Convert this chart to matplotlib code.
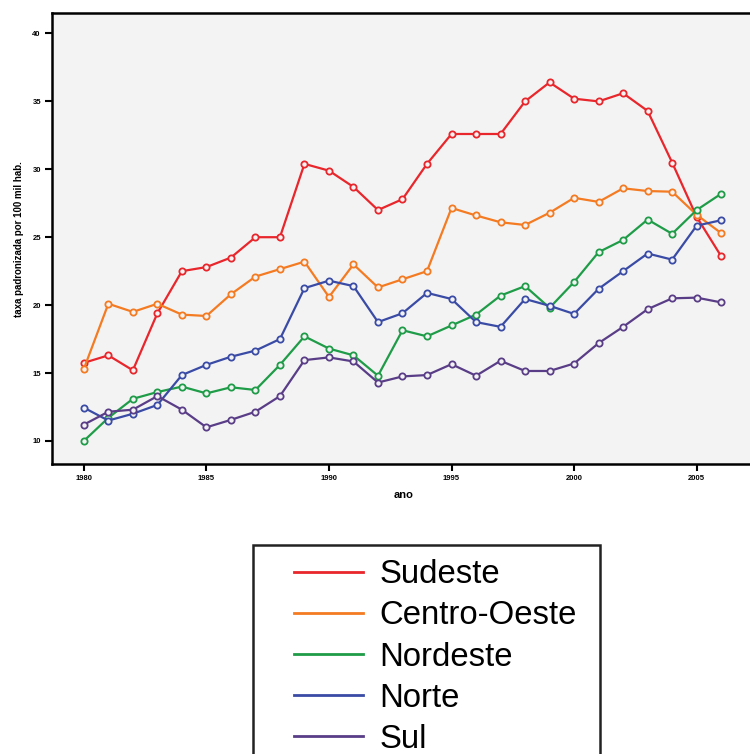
import numpy as np
import matplotlib.pyplot as plt
from matplotlib.legend_handler import HandlerLine2D
from matplotlib.patches import Rectangle

plt.rcParams['font.family'] = ['Liberation Sans', 'DejaVu Sans']

anos = np.arange(1980, 2007)

sudeste = [15.75, 16.3, 15.2, 19.4, 22.5, 22.8, 23.5, 25.0, 25.0, 30.4, 29.9, 28.7, 27.0, 27.8,
           30.4, 32.6, 32.6, 32.6, 35.0, 36.4, 35.2, 35.0, 35.6, 34.3, 30.5, 26.5, 23.6]
centro_oeste = [15.3, 20.1, 19.5, 20.1, 19.3, 19.2, 20.8, 22.1, 22.65, 23.2, 20.6, 23.0, 21.3, 21.9,
                22.5, 27.15, 26.6, 26.1, 25.9, 26.8, 27.9, 27.6, 28.6, 28.4, 28.35, 26.65, 25.3]
nordeste = [10.0, 11.7, 13.1, 13.6, 14.0, 13.5, 13.95, 13.75, 15.6, 17.7, 16.8, 16.3, 14.8, 18.15,
            17.7, 18.5, 19.3, 20.7, 21.4, 19.8, 21.7, 23.9, 24.8, 26.3, 25.25, 27.0, 28.2]
norte = [12.45, 11.5, 12.0, 12.65, 14.85, 15.6, 16.2, 16.65, 17.5, 21.25, 21.8, 21.4, 18.75, 19.4,
         20.9, 20.45, 18.75, 18.4, 20.45, 19.95, 19.35, 21.2, 22.5, 23.8, 23.35, 25.85, 26.25]
sul = [11.2, 12.15, 12.3, 13.3, 12.3, 11.0, 11.55, 12.15, 13.3, 15.95, 16.15, 15.85, 14.3, 14.75,
       14.85, 15.65, 14.8, 15.9, 15.15, 15.15, 15.7, 17.2, 18.4, 19.7, 20.5, 20.55, 20.2]

regioes = ['Sudeste', 'Centro-Oeste', 'Nordeste', 'Norte', 'Sul']
series = [sudeste, centro_oeste, nordeste, norte, sul]
cores = ['#e8262b', '#f47b22', '#1f9c48', '#3a4ba6', '#5a3d87']


class LinhaRecuada(HandlerLine2D):
    # legend line starts part way into the handle box, leaving a wide left margin
    def get_xdata(self, legend, xdescent, ydescent, width, height, fontsize):
        x0 = -xdescent + 0.28 * width
        x1 = -xdescent + width
        return np.array([x0, x1]), np.array([x0, x1])


fig = plt.figure(figsize=(7.5, 7.54), dpi=100)
ax = fig.add_axes([0.0693, 0.3846, 0.938, 0.598])
ax.set_facecolor('#f3f3f3')

for nome, valores, cor in zip(regioes, series, cores):
    ax.plot(anos, valores, color=cor, lw=1.6, marker='o', ms=4.5,
            mfc='#f3f3f3', mec=cor, mew=1.3, label=nome)

ax.set_xlim(1978.7, 2007.4)
ax.set_ylim(8.3, 41.5)
ax.set_xticks([1980, 1985, 1990, 1995, 2000, 2005])
ax.set_yticks([10, 15, 20, 25, 30, 35, 40])
ax.tick_params(direction='out', length=5, width=1.5, labelsize=5.5, pad=3)
for lbl in ax.get_xticklabels() + ax.get_yticklabels():
    lbl.set_fontweight('bold')
for s in ax.spines.values():
    s.set_linewidth(1.8)
ax.spines['right'].set_visible(False)

ax.set_xlabel('ano', fontsize=8, fontweight='bold', labelpad=6)
ax.set_ylabel('taxa padronizada por 100 mil hab.', fontsize=7, fontweight='bold', labelpad=6)

# legend box, running off the bottom of the figure
fig.patches.append(Rectangle((253 / 750, -0.05), (600 - 253) / 750, 1 - 545 / 754 + 0.05,
                             transform=fig.transFigure, fill=False, edgecolor='#222222',
                             lw=1.8, zorder=5))

handles = [plt.Line2D([], [], color=c, lw=2) for c in cores]
fig.legend(handles, regioes, loc='upper left',
           bbox_to_anchor=(253 / 750, 1 - 545 / 754), fontsize=23.7,
           frameon=False, handlelength=2.92, handletextpad=0.49, labelspacing=0.31,
           borderpad=0.43, borderaxespad=0,
           handler_map={plt.Line2D: LinhaRecuada()})

fig.savefig('out.png', dpi=100)
